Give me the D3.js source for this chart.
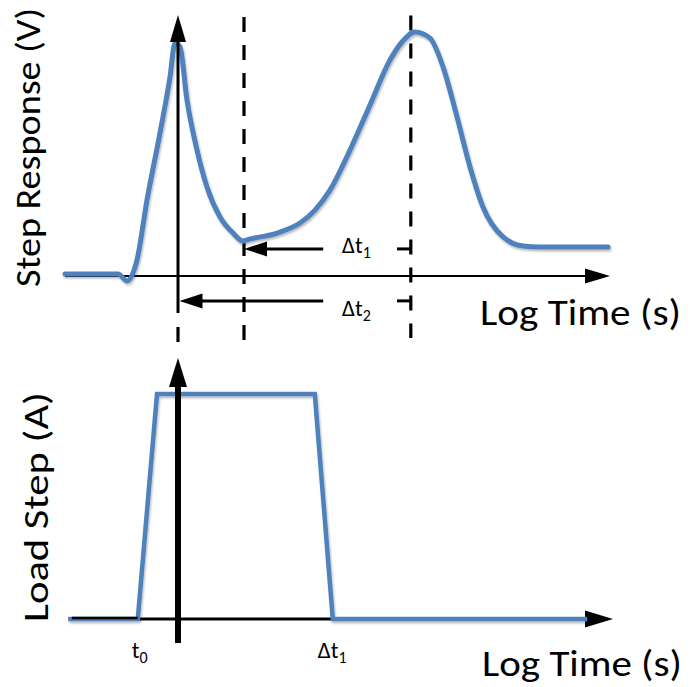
<!DOCTYPE html>
<html>
<head>
<meta charset="utf-8">
<script src="https://cdn.jsdelivr.net/npm/d3@7"></script>
<style>
  html, body { margin: 0; padding: 0; background: #fff; }
  svg { display: block; }
  text { font-family: Carlito, Calibri, Lato, "Open Sans", sans-serif; fill: #000; }
</style>
</head>
<body>
<div id="chart"></div>
<script>
// Step response of the output voltage, sampled along log time (decades, 0 = load step applied)
const responseTime  = [-1.883, -1.0, -0.85, -0.683, -0.517, -0.3, -0.133, -0.05, 0.033, 0.15, 0.317, 0.483, 0.7, 0.917, 1.083,
                       1.15, 1.65, 2.033, 2.283, 2.533, 2.867, 3.2, 3.533, 3.733, 3.95, 4.2, 4.417, 4.65, 4.867, 5.083, 5.417, 5.75, 6.033, 7.167];
const responseVolts = [0.008, 0.008, -0.02, 0.066, 0.311, 0.586, 0.816, 0.955, 0.939, 0.721, 0.516, 0.365, 0.242, 0.176, 0.143,
                       0.148, 0.176, 0.217, 0.27, 0.352, 0.516, 0.701, 0.885, 0.959, 1.0, 0.975, 0.857, 0.652, 0.447, 0.283, 0.16, 0.123, 0.119, 0.119];

// Load current step (trapezoid) along the same log time axis
const loadTime = [-1.83, -0.67, -0.35, 2.28, 2.58, 6.82];
const loadAmps = [0, 0, 1, 1, 0, 0];

// Marker times: load step applied, response minimum, response second peak
const markerTimes = [0, 1.1, 3.88];

// Interval arrows (from the second-peak marker back to the earlier markers)
const intervalNames = ["Δt", "Δt"];
const intervalSubs  = ["1", "2"];
const intervalEnds  = [1.1, 0.025];
const intervalLevel = [0.111, -0.102];

// Lower-panel time labels
const timeLabelNames = ["t", "Δt"];
const timeLabelSubs  = ["0", "1"];
const timeLabelAt    = [-0.77, 2.33];

const axisTitles = { top: "Step Response (V)", bottom: "Load Step (A)", time: "Log Time (s)" };

const W = 690, H = 687;
const blue = "#4F81BD";

const svg = d3.select("#chart").append("svg").attr("width", W).attr("height", H);

const defs = svg.append("defs");
const sh = defs.append("filter").attr("id", "shadow").attr("x", "-5%").attr("y", "-5%").attr("width", "110%").attr("height", "115%");
sh.append("feDropShadow").attr("dx", 1).attr("dy", 2).attr("stdDeviation", 1.2)
  .attr("flood-color", "#000").attr("flood-opacity", 0.28);

// Shared log-time scale, one vertical scale per panel
const x = d3.scaleLinear().domain([-1.9, 7.2]).range([64, 610]);
const yV = d3.scaleLinear().domain([0, 1]).range([276, 32]);
const yA = d3.scaleLinear().domain([0, 1]).range([619, 394]);

function arrowHead(g, tipX, tipY, dir, len, half) {
  let pts;
  if (dir === "up") pts = [[tipX, tipY], [tipX - half, tipY + len], [tipX + half, tipY + len]];
  else if (dir === "right") pts = [[tipX, tipY], [tipX - len, tipY - half], [tipX - len, tipY + half]];
  else pts = [[tipX, tipY], [tipX + len, tipY - half], [tipX + len, tipY + half]];
  g.append("path").attr("d", "M" + pts.map(p => p.join(",")).join("L") + "Z").attr("fill", "#000");
}

// ---------- Upper panel: step response ----------
const gTop = svg.append("g");

// Dashed marker lines
const dashSpans = [[-0.209, -0.283], [1.061, -0.262], [1.068, -0.254]];
markerTimes.forEach((t, i) => {
  gTop.append("line")
    .attr("x1", x(t)).attr("x2", x(t))
    .attr("y1", yV(dashSpans[i][0])).attr("y2", yV(dashSpans[i][1]))
    .attr("stroke", "#000").attr("stroke-width", 3.2)
    .attr("stroke-dasharray", "15 13");
});

// Horizontal time axis
const topAxisExt = [-1.883, 7.2];
gTop.append("line")
  .attr("x1", x(topAxisExt[0])).attr("x2", x(topAxisExt[1]) - 20)
  .attr("y1", yV(0)).attr("y2", yV(0))
  .attr("stroke", "#000").attr("stroke-width", 2.2);
arrowHead(gTop, x(topAxisExt[1]), yV(0), "right", 25, 7.5);

// Response trace
const lineV = d3.line().x((d, i) => x(responseTime[i])).y(d => yV(d)).curve(d3.curveMonotoneX);
gTop.append("path")
  .datum(responseVolts)
  .attr("d", lineV)
  .attr("fill", "none").attr("stroke", blue).attr("stroke-width", 5)
  .attr("stroke-linejoin", "round").attr("stroke-linecap", "round")
  .attr("filter", "url(#shadow)");

// Vertical voltage axis
gTop.append("line")
  .attr("x1", x(0)).attr("x2", x(0))
  .attr("y1", yV(-0.152)).attr("y2", yV(1.0))
  .attr("stroke", "#000").attr("stroke-width", 3);
arrowHead(gTop, x(0), yV(1.07), "up", 27, 8);

// Interval arrows and labels
intervalEnds.forEach((end, i) => {
  const yy = yV(intervalLevel[i]);
  gTop.append("line")
    .attr("x1", x(end) + 15).attr("x2", x(2.42))
    .attr("y1", yy).attr("y2", yy)
    .attr("stroke", "#000").attr("stroke-width", 3);
  gTop.append("line")
    .attr("x1", x(3.65)).attr("x2", x(markerTimes[2]))
    .attr("y1", yy).attr("y2", yy)
    .attr("stroke", "#000").attr("stroke-width", 3);
  arrowHead(gTop, x(end), yy, "left", 23, 7.5);
  const tx = gTop.append("text")
    .attr("x", x(2.733))
    .attr("y", i === 0 ? yV(0.094) : yV(-0.164))
    .attr("font-size", 23);
  tx.append("tspan").text(intervalNames[i]);
  tx.append("tspan").attr("font-size", 16).attr("dy", 5).text(intervalSubs[i]);
});

// Axis titles (upper)
gTop.append("text")
  .attr("transform", "translate(40,287) rotate(-90)")
  .attr("font-size", 35)
  .attr("textLength", 279).attr("lengthAdjust", "spacingAndGlyphs")
  .text(axisTitles.top);
gTop.append("text")
  .attr("x", 480).attr("y", 325)
  .attr("font-size", 36)
  .attr("textLength", 201).attr("lengthAdjust", "spacingAndGlyphs")
  .text(axisTitles.time);

// ---------- Lower panel: load step ----------
const gBot = svg.append("g");

const botAxisExt = [-1.77, 7.25];
gBot.append("line")
  .attr("x1", x(botAxisExt[0])).attr("x2", x(botAxisExt[1]) - 20)
  .attr("y1", yA(0)).attr("y2", yA(0))
  .attr("stroke", "#000").attr("stroke-width", 3);
arrowHead(gBot, x(botAxisExt[1]), yA(0), "right", 28, 8.5);

const lineA = d3.line().x((d, i) => x(loadTime[i])).y(d => yA(d));
gBot.append("path")
  .datum(loadAmps)
  .attr("d", lineA)
  .attr("fill", "none").attr("stroke", blue).attr("stroke-width", 4.5)
  .attr("stroke-linejoin", "miter")
  .attr("filter", "url(#shadow)");

// Axis line stays visible over the flat lead-in of the load trace
gBot.append("line")
  .attr("x1", x(botAxisExt[0])).attr("x2", x(loadTime[1]))
  .attr("y1", yA(0) - 1).attr("y2", yA(0) - 1)
  .attr("stroke", "#000").attr("stroke-width", 2.6);

// Vertical current axis
gBot.append("line")
  .attr("x1", x(0)).attr("x2", x(0))
  .attr("y1", yA(-0.107)).attr("y2", yA(1.05))
  .attr("stroke", "#000").attr("stroke-width", 6);
arrowHead(gBot, x(0), yA(1.16), "up", 29, 9);

// Time labels
timeLabelNames.forEach((n, i) => {
  const tx = gBot.append("text")
    .attr("x", x(timeLabelAt[i]))
    .attr("y", yA(-0.173))
    .attr("font-size", 23);
  tx.append("tspan").text(n);
  tx.append("tspan").attr("font-size", 16).attr("dy", 5).text(timeLabelSubs[i]);
});

// Axis titles (lower)
gBot.append("text")
  .attr("transform", "translate(48,622) rotate(-90)")
  .attr("font-size", 35)
  .attr("textLength", 230).attr("lengthAdjust", "spacingAndGlyphs")
  .text(axisTitles.bottom);
gBot.append("text")
  .attr("x", 482).attr("y", 676)
  .attr("font-size", 36)
  .attr("textLength", 200).attr("lengthAdjust", "spacingAndGlyphs")
  .text(axisTitles.time);
</script>
</body>
</html>
